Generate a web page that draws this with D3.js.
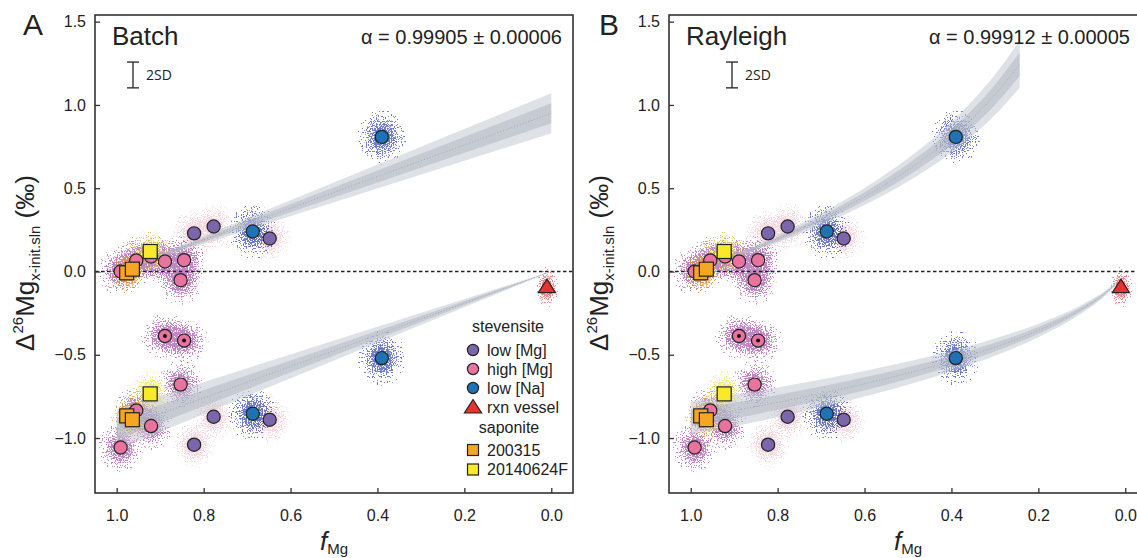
<!DOCTYPE html>
<html>
<head>
<meta charset="utf-8">
<script src="https://cdnjs.cloudflare.com/ajax/libs/d3/7.8.5/d3.min.js"></script>
<style>
  body { margin: 0; background: #fff; }
  svg { display: block; font-family: "Liberation Sans", Arial, Helvetica, sans-serif; }
</style>
</head>
<body>
<script>
// axis ticks
var xTicks = [1.0, 0.8, 0.6, 0.4, 0.2, 0.0];
var yTicks = [-1.0, -0.5, 0.0, 0.5, 1.0, 1.5];

// panel labels
var panelLetters = ["A", "B"];
var panelNames = ["Batch", "Rayleigh"];
var alphaLabels = ["α = 0.99905 ± 0.00006", "α = 0.99912 ± 0.00005"];
var sigmaRatio = [0.063, 0.057];   // sigma / (1 - alpha): half width of the 1 sigma band
var twoSD = 0.155;

var lowMgF = [0.822, 0.777, 0.648, 0.822, 0.777, 0.648];
var lowMgD = [0.229, 0.270, 0.198, -1.040, -0.872, -0.890];
var highMgF = [0.991, 0.955, 0.921, 0.889, 0.845, 0.853, 0.853, 0.955, 0.921, 0.991];
var highMgD = [0.000, 0.066, 0.090, 0.060, 0.068, -0.052, -0.679, -0.834, -0.928, -1.057];
var highMgDotF = [0.889, 0.845];
var highMgDotD = [-0.387, -0.415];
var lowNaF = [0.687, 0.390, 0.687, 0.390];
var lowNaD = [0.240, 0.808, -0.854, -0.520];
var vesselF = [0.010];
var vesselD = [-0.097];
var sap200315F = [0.977, 0.964, 0.977, 0.964];
var sap200315D = [-0.008, 0.014, -0.867, -0.890];
var sap2014F = [0.923, 0.923];
var sap2014D = [0.120, -0.735];

// model curves
var batchF = [1.0, 0.0];
var batchSln = [0.0, 0.95];
var batchSolid = [-0.95, 0.0];
var rayleighSlnF = [1.0, 0.95, 0.9, 0.8, 0.7, 0.6, 0.5, 0.4, 0.35, 0.3, 0.243];
var rayleighSln = [0.0, 0.045, 0.093, 0.196, 0.314, 0.45, 0.61, 0.806, 0.924, 1.06, 1.245];
var rayleighSolidF = [1.0, 0.95, 0.9, 0.8, 0.7, 0.6, 0.5, 0.4, 0.3, 0.2, 0.1, 0.05, 0.02];
var rayleighSolid = [-0.88, -0.858, -0.835, -0.786, -0.732, -0.674, -0.61, -0.538, -0.454, -0.354, -0.225, -0.139, -0.07];

var W = 1137, H = 558;
var pw = 478, ph = 478;
var panelX = [95, 669], panelY = 15;

var svg = d3.select("body").append("svg").attr("width", W).attr("height", H);
var defs = svg.append("defs");

// speckle filter: turns a soft gradient into scattered dots
var flt = defs.append("filter").attr("id", "speckle")
  .attr("filterUnits", "userSpaceOnUse")
  .attr("x", -150).attr("y", -150).attr("width", 900).attr("height", 800)
  .attr("color-interpolation-filters", "sRGB");
flt.append("feTurbulence").attr("type", "fractalNoise").attr("baseFrequency", 0.8)
  .attr("numOctaves", 1).attr("seed", 11).attr("result", "noise");
flt.append("feColorMatrix").attr("in", "noise").attr("type", "matrix")
  .attr("values", "0 0 0 0 0  0 0 0 0 0  0 0 0 0 0  2.6 0 0 0 -0.8").attr("result", "n");
flt.append("feComposite").attr("in", "SourceGraphic").attr("in2", "n").attr("operator", "arithmetic")
  .attr("k1", 0).attr("k2", 1).attr("k3", -1).attr("k4", 0).attr("result", "diff");
flt.append("feComponentTransfer").attr("in", "diff").attr("result", "mask")
  .append("feFuncA").attr("type", "linear").attr("slope", 30).attr("intercept", 0);
flt.append("feColorMatrix").attr("in", "SourceGraphic").attr("type", "matrix")
  .attr("values", "1 0 0 0 0  0 1 0 0 0  0 0 1 0 0  0 0 0 80 0").attr("result", "solid");
flt.append("feComposite").attr("in", "solid").attr("in2", "mask").attr("operator", "in");

var series = [
  {key: "lowMg", f: lowMgF, d: lowMgD, shape: "circle", fill: "#7b65ab", cloud: "#f2a0b2", rx: 22, ry: 24, op: 0.4},
  {key: "highMg", f: highMgF, d: highMgD, shape: "circle", fill: "#e8739f", cloud: "#9a38a0", rx: 23, ry: 25, op: 0.6},
  {key: "highMgDot", f: highMgDotF, d: highMgDotD, shape: "dot", fill: "#e8739f", cloud: "#9a38a0", rx: 25, ry: 23, op: 0.6},
  {key: "lowNa", f: lowNaF, d: lowNaD, shape: "circle", fill: "#1f72b3", cloud: "#3448b8", rx: 25, ry: 28, op: 0.7},
  {key: "sap200315", f: sap200315F, d: sap200315D, shape: "square", fill: "#f5a623", cloud: "#f39a22", rx: 16, ry: 21, op: 0.65},
  {key: "sap2014", f: sap2014F, d: sap2014D, shape: "square", fill: "#f6ea2b", cloud: "#f1e12a", rx: 21, ry: 23, op: 0.6},
  {key: "vessel", f: vesselF, d: vesselD, shape: "triangle", fill: "#e8322f", cloud: "#ec4040", rx: 12, ry: 21, op: 0.6}
];

series.forEach(function (s) {
  var gr = defs.append("radialGradient").attr("id", "cg-" + s.key);
  gr.append("stop").attr("offset", "0%").attr("stop-color", s.cloud).attr("stop-opacity", 0.95);
  gr.append("stop").attr("offset", "35%").attr("stop-color", s.cloud).attr("stop-opacity", 0.7);
  gr.append("stop").attr("offset", "70%").attr("stop-color", s.cloud).attr("stop-opacity", 0.25);
  gr.append("stop").attr("offset", "100%").attr("stop-color", s.cloud).attr("stop-opacity", 0);
});

var x = d3.scaleLinear().domain([1.05, -0.05]).range([0, pw]);
var y = d3.scaleLinear().domain([1.54, -1.33]).range([0, ph]);

function pts(f, d) {
  return f.map(function (v, i) { return {f: v, d: d[i]}; });
}

var models = [
  [{f: batchF, d: batchSln}, {f: batchF, d: batchSolid}],
  [{f: rayleighSlnF, d: rayleighSln}, {f: rayleighSolidF, d: rayleighSolid}]
];

var triPath = "M0,-8.5L8.6,5L-8.6,5Z";

function drawPanel(p) {
  var g = svg.append("g").attr("transform", "translate(" + panelX[p] + "," + panelY + ")");

  // uncertainty clouds
  series.forEach(function (s) {
    g.append("g").attr("filter", "url(#speckle)").attr("opacity", s.op)
      .selectAll("ellipse").data(pts(s.f, s.d)).enter().append("ellipse")
      .attr("cx", function (d) { return x(d.f); })
      .attr("cy", function (d) { return y(d.d); })
      .attr("rx", s.rx).attr("ry", s.ry)
      .attr("fill", "url(#cg-" + s.key + ")");
  });

  // zero line
  g.append("line").attr("x1", 0).attr("x2", pw).attr("y1", y(0)).attr("y2", y(0))
    .attr("stroke", "#222").attr("stroke-width", 1.3).attr("stroke-dasharray", "3.5,2.5");

  // model bands
  models[p].forEach(function (m) {
    var data = pts(m.f, m.d);
    [2, 1].forEach(function (k) {
      var area = d3.area()
        .x(function (d) { return x(d.f); })
        .y0(function (d) { return y(d.d - k * sigmaRatio[p] * Math.abs(d.d)); })
        .y1(function (d) { return y(d.d + k * sigmaRatio[p] * Math.abs(d.d)); })
        .curve(d3.curveMonotoneX);
      g.append("path").datum(data).attr("d", area)
        .attr("fill", k === 2 ? "rgba(190,196,206,0.5)" : "rgba(168,175,188,0.45)");
    });
    var line = d3.line().x(function (d) { return x(d.f); }).y(function (d) { return y(d.d); })
      .curve(d3.curveMonotoneX);
    g.append("path").datum(data).attr("d", line).attr("fill", "none")
      .attr("stroke", "#9aa1ad").attr("stroke-width", 0.8).attr("stroke-dasharray", "1,2");
  });

  // markers
  var order = ["lowMg", "highMg", "highMgDot", "lowNa", "sap200315", "sap2014", "vessel"];
  order.forEach(function (key) {
    var s = series.filter(function (z) { return z.key === key; })[0];
    var sel = g.append("g").selectAll("g").data(pts(s.f, s.d)).enter().append("g")
      .attr("transform", function (d) { return "translate(" + x(d.f) + "," + y(d.d) + ")"; });
    if (s.shape === "circle" || s.shape === "dot") {
      sel.append("circle").attr("r", 6.6).attr("fill", s.fill).attr("stroke", "#222").attr("stroke-width", 1.2);
      if (s.shape === "dot") sel.append("circle").attr("r", 2).attr("fill", "#111");
    } else if (s.shape === "square") {
      sel.append("rect").attr("x", -7).attr("y", -7).attr("width", 14).attr("height", 14)
        .attr("fill", s.fill).attr("stroke", "#222").attr("stroke-width", 1.2);
    } else {
      sel.append("path").attr("d", triPath).attr("fill", s.fill).attr("stroke", "#222").attr("stroke-width", 1.2);
    }
  });

  // axes
  var xa = g.append("g").attr("transform", "translate(0," + ph + ")")
    .call(d3.axisBottom(x).tickValues(xTicks).tickFormat(d3.format(".1f")).tickSize(-5).tickPadding(17));
  var ya = g.append("g")
    .call(d3.axisLeft(y).tickValues(yTicks).tickFormat(d3.format(".1f")).tickSize(-5).tickPadding(9));
  [xa, ya].forEach(function (a) {
    a.select(".domain").remove();
    a.selectAll("line").attr("stroke", "#333").attr("stroke-width", 1.3);
    a.selectAll("text").attr("font-size", 16).attr("fill", "#222")
      .attr("font-family", "'Liberation Sans', Arial, sans-serif");
  });

  // frame
  g.append("rect").attr("width", pw).attr("height", ph).attr("fill", "none")
    .attr("stroke", "#333").attr("stroke-width", 1.6);

  // panel texts
  g.append("text").attr("x", p === 0 ? -72 : -70).attr("y", 20).attr("font-size", 30)
    .attr("fill", "#222").text(panelLetters[p]);
  g.append("text").attr("x", 17).attr("y", 30).attr("font-size", 26).attr("fill", "#222").text(panelNames[p]);
  g.append("text").attr("x", p === 0 ? 467 : 461).attr("y", 29).attr("font-size", 20)
    .attr("text-anchor", "end").attr("fill", "#222").text(alphaLabels[p]);

  // 2SD bar
  var bx = p === 0 ? 38 : 63, bc = 1.18;
  var sd = g.append("g").attr("stroke", "#222").attr("stroke-width", 1.3);
  sd.append("line").attr("x1", bx).attr("x2", bx).attr("y1", y(bc + twoSD / 2)).attr("y2", y(bc - twoSD / 2));
  sd.append("line").attr("x1", bx - 6).attr("x2", bx + 6).attr("y1", y(bc + twoSD / 2)).attr("y2", y(bc + twoSD / 2));
  sd.append("line").attr("x1", bx - 6).attr("x2", bx + 6).attr("y1", y(bc - twoSD / 2)).attr("y2", y(bc - twoSD / 2));
  g.append("text").attr("x", bx + 13).attr("y", y(bc) + 5).attr("font-size", 14)
    .attr("font-family", "'Open Sans', sans-serif").attr("fill", "#222").text("2SD");

  // axis titles
  var yl = g.append("text").attr("transform", "translate(-61,248) rotate(-90)")
    .attr("text-anchor", "middle").attr("font-size", 26).attr("fill", "#222");
  yl.append("tspan").text("Δ");
  yl.append("tspan").attr("font-size", 15).attr("dy", -11).text("26");
  yl.append("tspan").attr("dy", 11).text("Mg");
  yl.append("tspan").attr("font-size", 15).attr("dy", 6).text("x-init.sln");
  yl.append("tspan").attr("dy", -6).text(" (‰)");

  var xl = g.append("text").attr("x", pw / 2).attr("y", 535).attr("text-anchor", "middle")
    .attr("font-size", 26).attr("fill", "#222");
  xl.append("tspan").attr("font-style", "italic").text("f");
  xl.append("tspan").attr("font-size", 15).attr("dy", 4).text("Mg");

  return g;
}

var gA = drawPanel(0);
drawPanel(1);

// legend (panel A)
var lg = gA.append("g").attr("fill", "#222").attr("font-size", 16);
lg.append("text").attr("x", 413).attr("y", 317).attr("text-anchor", "middle").text("stevensite");
var legItems = [
  {label: "low [Mg]", key: "lowMg"},
  {label: "high [Mg]", key: "highMg"},
  {label: "low [Na]", key: "lowNa"},
  {label: "rxn vessel", key: "vessel"}
];
legItems.forEach(function (it, i) {
  var s = series.filter(function (z) { return z.key === it.key; })[0];
  var cy = 335 + i * 19;
  if (s.shape === "triangle") {
    lg.append("path").attr("d", triPath).attr("transform", "translate(378," + (cy + 1) + ")")
      .attr("fill", s.fill).attr("stroke", "#222").attr("stroke-width", 1.2);
  } else {
    lg.append("circle").attr("cx", 378).attr("cy", cy).attr("r", 5.6)
      .attr("fill", s.fill).attr("stroke", "#222").attr("stroke-width", 1.2);
  }
  lg.append("text").attr("x", 392).attr("y", cy + 5.5).text(it.label);
});
lg.append("text").attr("x", 414).attr("y", 418).attr("text-anchor", "middle").text("saponite");
[{label: "200315", key: "sap200315"}, {label: "20140624F", key: "sap2014"}].forEach(function (it, i) {
  var s = series.filter(function (z) { return z.key === it.key; })[0];
  var cy = 435 + i * 19.5;
  lg.append("rect").attr("x", 372.5).attr("y", cy - 5.5).attr("width", 11).attr("height", 11)
    .attr("fill", s.fill).attr("stroke", "#222").attr("stroke-width", 1.2);
  lg.append("text").attr("x", 392).attr("y", cy + 5.5).text(it.label);
});
</script>
</body>
</html>
